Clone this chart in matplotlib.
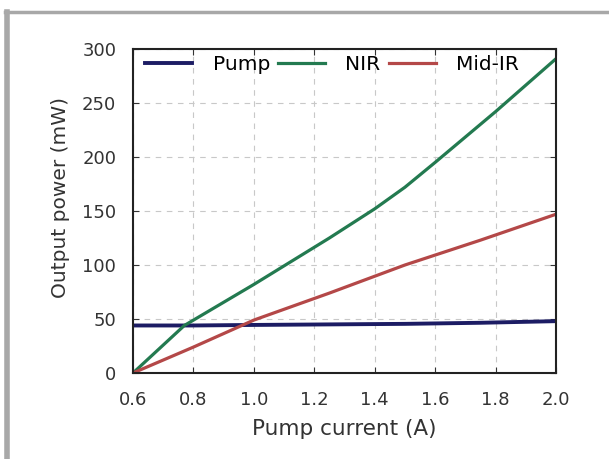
import matplotlib
matplotlib.use("Agg")
import matplotlib.pyplot as plt
from matplotlib.lines import Line2D

plt.rcParams['font.family'] = ['DejaVu Sans']

# Data
current = [0.6, 0.8, 1.0, 1.25, 1.5, 1.75, 2.0]
pump = [44, 44, 44.5, 45, 45.5, 46.5, 48]
nir_current = [0.6, 0.77, 1.0, 1.25, 1.4, 1.5, 1.6, 1.8, 2.0]
nir = [0, 44, 82, 125, 152, 172, 195, 242, 291]
midir = [0, 24, 49, 74, 100, 123, 147]

fig = plt.figure(figsize=(6.09, 4.59), dpi=100)
ax = fig.add_axes([133/609, 1 - 373/459, 423/609, 324/459])

ax.plot(current, pump, color='#1c1c64', lw=2.8, label='Pump')
ax.plot(nir_current, nir, color='#237a50', lw=2.3, label='NIR')
ax.plot(current, midir, color='#b44848', lw=2.3, label='Mid-IR')

ax.set_xlim(0.6, 2.0)
ax.set_ylim(0, 300)
ax.set_xticks([0.6, 0.8, 1.0, 1.2, 1.4, 1.6, 1.8, 2.0])
ax.set_xticklabels(['0.6', '0.8', '1.0', '1.2', '1.4', '1.6', '1.8', '2.0'])
ax.set_yticks([0, 50, 100, 150, 200, 250, 300])
ax.tick_params(direction='in', top=True, right=True, labelsize=13,
               colors='#333333', length=4)
ax.tick_params(axis='x', pad=13)
ax.tick_params(axis='y', pad=12)
ax.grid(True, ls=(0, (5, 5)), color='#c8c8c8', lw=0.8)
for s in ax.spines.values():
    s.set_linewidth(1.5)
    s.set_color('#222222')

ax.set_xlabel('Pump current (A)', fontsize=15.5, color='#333333', labelpad=7)
ax.set_ylabel('Output power (mW)', fontsize=14.5, color='#333333', labelpad=9)
ax.yaxis.label.set_y(0.543)

ax.legend(loc='upper left', ncol=3, frameon=False, fontsize=14.5,
          handlelength=2.35, columnspacing=0.4, handletextpad=1.0,
          bbox_to_anchor=(0.0, 1.02), borderaxespad=0.2)

# gray frame of the screenshot
fig.add_artist(Line2D([5/609, 1], [1 - 12/459, 1 - 12/459], color='#a8a8a8', lw=2.5))
fig.add_artist(Line2D([7/609, 7/609], [0, 1 - 12/459], color='#a8a8a8', lw=4))

fig.savefig('out.png', dpi=100)
